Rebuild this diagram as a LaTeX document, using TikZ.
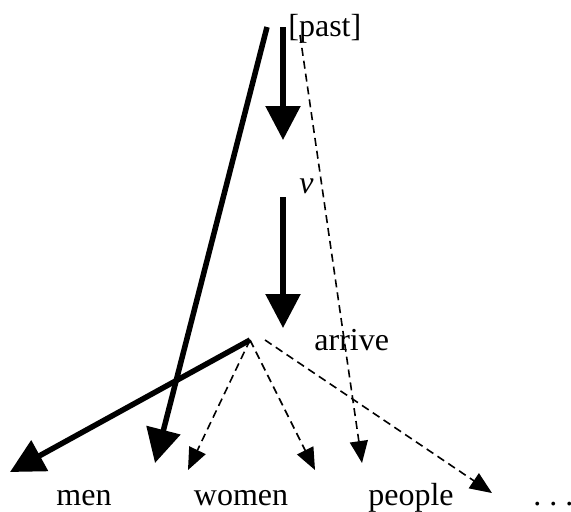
\documentclass[tikz,border=0pt]{standalone}
\usepackage{fontspec}
\setmainfont{Liberation Serif}
\usetikzlibrary{arrows.meta}

\begin{document}
\begin{tikzpicture}[x=0.5pt, y=-0.5pt, font=\fontsize{16}{18}\selectfont,
  thickarrow/.style={line width=2.75pt, -{Triangle[length=17pt, width=17pt]}},
  dasharrow/.style={line width=0.8pt, dash pattern=on 4pt off 2.5pt,
    -{Triangle[length=11pt, width=9pt]}}]

\useasboundingbox (0,0) rectangle (571,511);

%--------------------
% Labels
%--------------------
\node[anchor=base west, inner sep=0pt] (past) at (288,36.5) {[past]};
\node[anchor=base west, inner sep=0pt] (vlab) at (299,193) {\textit{v}};
\node[anchor=base west, inner sep=0pt] (arrive) at (314,350) {arrive};
\node[anchor=base, inner sep=0pt] (men) at (84,505) {men};
\node[anchor=base, inner sep=0pt] (women) at (241,505) {women};
\node[anchor=base, inner sep=0pt] (people) at (411,505) {people};
\node[anchor=base west, inner sep=0pt] (dots) at (533,505) {.\ .\ .};

% End points
\coordinate (top) at (267,27);
\coordinate (topv) at (283,27);
\coordinate (tipv) at (283,140);
\coordinate (topr) at (283,197);
\coordinate (tipr) at (283,328);
\coordinate (apex) at (250,340);
\coordinate (apexr) at (265,340);
\coordinate (pastd) at (300,35);
\coordinate (tmen) at (10,472);
\coordinate (tlong) at (155,463);
\coordinate (tw1) at (188,470);
\coordinate (tw2) at (315,470);
\coordinate (tpeople) at (362,463);
\coordinate (tdots) at (492,493);

%--------------------
% Thick arrows
%--------------------
\draw[thickarrow] (topv) -- (tipv);
\draw[thickarrow] (topr) -- (tipr);
\draw[thickarrow] (top) -- (tlong);
\draw[thickarrow] (apex) -- (tmen);

%--------------------
% Dashed arrows
%--------------------
\draw[dasharrow] (pastd) -- (tpeople);
\draw[dasharrow] (apex) -- (tw1);
\draw[dasharrow] (apex) -- (tw2);
\draw[dasharrow] (apexr) -- (tdots);

\end{tikzpicture}
\end{document}
